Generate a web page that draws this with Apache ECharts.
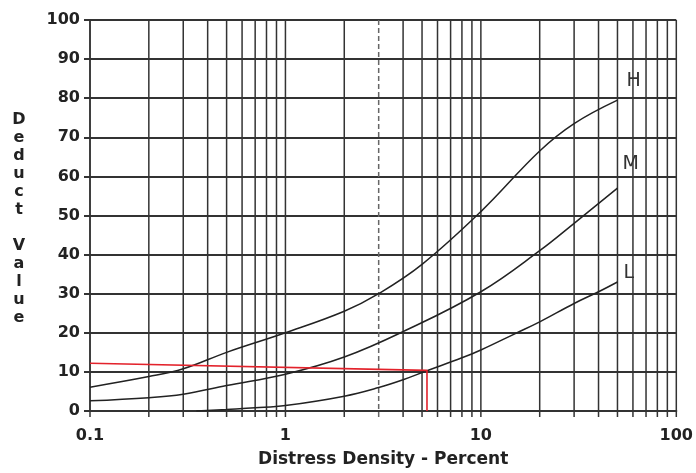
<!DOCTYPE html>
<html>
<head>
<meta charset="utf-8">
<script src="https://cdn.jsdelivr.net/npm/echarts@6/dist/echarts.min.js"></script>
<style>
  html, body { margin: 0; padding: 0; background: #fff; }
  #chart { width: 696px; height: 473px; }
</style>
</head>
<body>
<div id="chart"></div>
<script>
// ---- Data ----
const hX = [0.1, 0.2, 0.3, 0.5, 1, 2, 3, 5, 10, 20, 30, 50];
const hY = [6.1, 8.8, 10.8, 15, 20, 25.5, 30, 37.5, 51, 66.5, 73.5, 79.5];

const mX = [0.1, 0.2, 0.3, 0.5, 1, 2, 4, 10, 20, 30, 50];
const mY = [2.6, 3.4, 4.3, 6.5, 9.4, 13.8, 20.3, 30.5, 41, 48, 57];

const lX = [0.35, 0.5, 0.7, 1, 2, 3, 4, 5.3, 8, 10, 15, 20, 30, 40, 50];
const lY = [0, 0.4, 0.8, 1.4, 3.8, 6, 8, 10.3, 13.6, 15.6, 19.8, 22.8, 27.5, 30.5, 33];

const redX = [0.1, 5.3, 5.3];
const redY = [12.2, 10.4, 0];

const gridX = [0.1, 0.2, 0.3, 0.4, 0.5, 0.6, 0.7, 0.8, 0.9,
               1, 2, 3, 4, 5, 6, 7, 8, 9,
               10, 20, 30, 40, 50, 60, 70, 80, 90, 100];
const dashedX = [3];

const xTickLabels = ['0.1', '1', '10', '100'];
const yTicks = [0, 10, 20, 30, 40, 50, 60, 70, 80, 90, 100];

const curveNames = ['H', 'M', 'L'];
const xName = 'Distress Density - Percent';
const yName = 'Deduct Value';

// ---- Helpers ----
const zip = (xs, ys) => xs.map((x, i) => [x, ys[i]]);
const FONT = '"DejaVu Sans", sans-serif';

const chart = echarts.init(document.getElementById('chart'), null, { renderer: 'canvas' });

function curve(name, xs, ys, offset) {
  return {
    name: name,
    type: 'line',
    data: zip(xs, ys),
    smooth: 0.4,
    symbol: 'none',
    lineStyle: { color: '#222', width: 1.5 },
    endLabel: {
      show: true,
      formatter: name,
      distance: 0,
      offset: offset,
      color: '#333',
      fontFamily: FONT,
      fontSize: 19
    },
    z: 5
  };
}

const option = {
  backgroundColor: '#fff',
  animation: false,
  grid: { left: 90, right: 16, top: 20, bottom: 61 },
  xAxis: {
    type: 'log',
    logBase: 10,
    min: 0.1,
    max: 100,
    name: xName,
    nameLocation: 'middle',
    nameGap: 40,
    nameTextStyle: { color: '#222', fontFamily: FONT, fontSize: 17, fontWeight: 'bold' },
    axisLine: { show: true, lineStyle: { color: '#333', width: 2 } },
    axisTick: { show: false },
    splitLine: { show: false },
    axisLabel: {
      color: '#222', fontFamily: FONT, fontSize: 16, fontWeight: 'bold', margin: 17,
      formatter: function (v) {
        const s = String(+Number(v).toPrecision(3));
        return xTickLabels.indexOf(s) >= 0 ? s : '';
      }
    }
  },
  yAxis: {
    type: 'value',
    min: yTicks[0],
    max: yTicks[yTicks.length - 1],
    interval: 10,
    axisLine: { show: true, lineStyle: { color: '#333', width: 1.5 } },
    axisTick: { show: true, length: 6, lineStyle: { color: '#333', width: 2 } },
    splitLine: { show: true, lineStyle: { color: '#333', width: 2 } },
    axisLabel: { color: '#222', fontFamily: FONT, fontSize: 16, fontWeight: 'bold', margin: 10 }
  },
  graphic: [{
    type: 'text',
    x: 19,
    y: 219,
    style: {
      text: yName.split('').map(c => c === ' ' ? '' : c).join('\n'),
      textAlign: 'center',
      textVerticalAlign: 'middle',
      fontFamily: FONT,
      fontSize: 16,
      fontWeight: 'bold',
      lineHeight: 18,
      fill: '#222'
    }
  }],
  series: [
    {
      type: 'custom',
      coordinateSystem: 'cartesian2d',
      clip: false,
      silent: true,
      data: gridX.map(v => [v, 0]),
      encode: { x: 0, y: 1 },
      renderItem: function (params, api) {
        const v = api.value(0);
        const top = api.coord([v, yTicks[yTicks.length - 1]]);
        const bot = api.coord([v, yTicks[0]]);
        const dashed = dashedX.indexOf(v) >= 0;
        return {
          type: 'line',
          shape: { x1: top[0], y1: top[1], x2: bot[0], y2: bot[1] + 6 },
          style: {
            stroke: dashed ? '#666' : '#333',
            lineWidth: 1.5,
            lineDash: dashed ? [5, 3] : null
          }
        };
      },
      z: 1
    },
    curve(curveNames[0], hX, hY, [9, -19]),
    curve(curveNames[1], mX, mY, [5, -24]),
    curve(curveNames[2], lX, lY, [6, -9]),
    {
      name: 'reading',
      type: 'line',
      data: zip(redX, redY),
      symbol: 'none',
      lineStyle: { color: '#e3222b', width: 1.6 },
      z: 6
    }
  ]
};

chart.setOption(option);
</script>
</body>
</html>
